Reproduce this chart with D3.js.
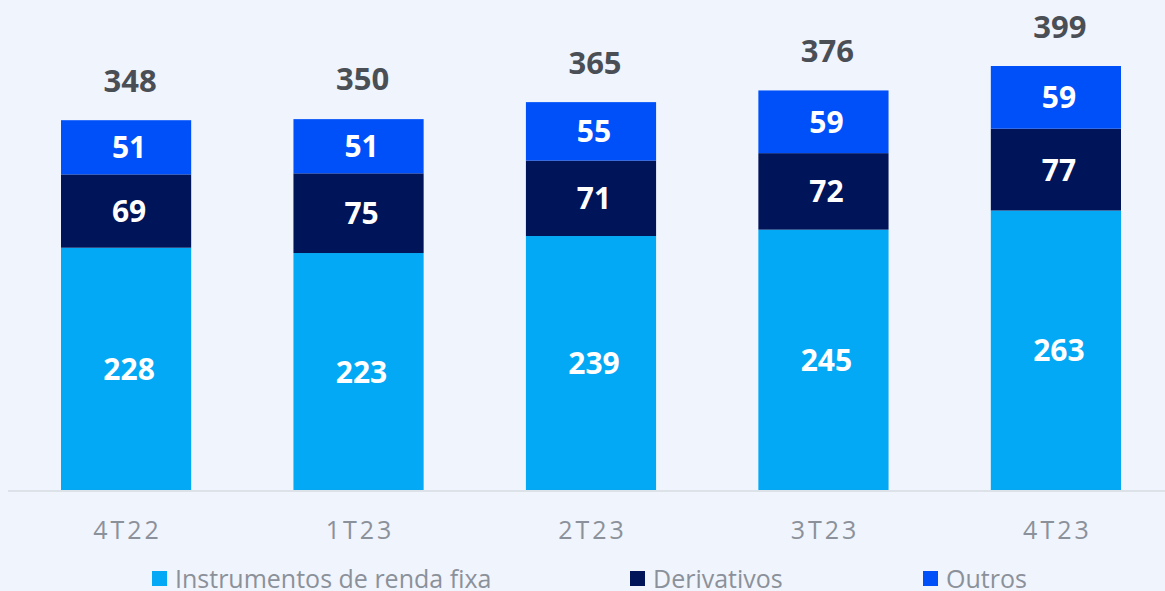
<html>
<head>
<meta charset="utf-8">
<script src="https://cdn.jsdelivr.net/npm/d3@7"></script>
<style>
  body { margin: 0; background: #f0f4fc; overflow: hidden; }
  svg { display: block; font-family: "Open Sans", sans-serif; }
</style>
</head>
<body>
<script>
var quarters = ["4T22", "1T23", "2T23", "3T23", "4T23"];
var rendaFixa = [228, 223, 239, 245, 263];
var derivativos = [69, 75, 71, 72, 77];
var outros = [51, 51, 55, 59, 59];
var totals = [348, 350, 365, 376, 399];
var seriesNames = ["Instrumentos de renda fixa", "Derivativos", "Outros"];
var colors = ["#03a9f4", "#001459", "#0050fa"];

var width = 1165, height = 591;
var svg = d3.select("body").append("svg")
    .attr("width", width)
    .attr("height", height);

var x = d3.scaleBand()
    .domain(quarters)
    .range([8, 1174])
    .paddingInner(0.44)
    .paddingOuter(0.228);

var y = d3.scaleLinear()
    .domain([0, 399])
    .range([490, 66]);

var rows = quarters.map(function(q, i) {
  return { q: q, renda: rendaFixa[i], deriv: derivativos[i], outros: outros[i], total: totals[i] };
});
var stack = d3.stack().keys(["renda", "deriv", "outros"]);
var layers = stack(rows);

var g = svg.selectAll(".layer")
    .data(layers)
  .enter().append("g")
    .attr("fill", function(d, i) { return colors[i]; });

g.selectAll("rect")
    .data(function(d) { return d; })
  .enter().append("rect")
    .attr("x", function(d) { return x(d.data.q); })
    .attr("width", x.bandwidth())
    .attr("y", function(d) { return y(d[1]); })
    .attr("height", function(d) { return y(d[0]) - y(d[1]); });

// segment values
g.selectAll("text")
    .data(function(d) { return d; })
  .enter().append("text")
    .attr("x", function(d) { return x(d.data.q) + x.bandwidth() / 2 + 3; })
    .attr("y", function(d) { return (y(d[0]) + y(d[1])) / 2 + 11; })
    .attr("text-anchor", "middle")
    .attr("fill", "#ffffff")
    .attr("font-size", 30)
    .attr("font-weight", 700)
    .text(function(d) { return d[1] - d[0]; });

// totals
svg.selectAll(".total")
    .data(rows)
  .enter().append("text")
    .attr("class", "total")
    .attr("x", function(d) { return x(d.q) + x.bandwidth() / 2 + 4; })
    .attr("y", function(d) { return y(d.total) - 28; })
    .attr("text-anchor", "middle")
    .attr("fill", "#4a4f56")
    .attr("font-size", 31)
    .attr("font-weight", 700)
    .text(function(d) { return d.total; });

// baseline
svg.append("line")
    .attr("x1", 8).attr("x2", width)
    .attr("y1", 491).attr("y2", 491)
    .attr("stroke", "#dde1e8")
    .attr("stroke-width", 2);

// x axis labels
var xAxis = svg.append("g")
    .attr("transform", "translate(0,490)")
    .call(d3.axisBottom(x).tickSize(0).tickPadding(31));
xAxis.select(".domain").remove();
xAxis.selectAll("text")
    .style("font-family", "Open Sans, sans-serif")
    .style("font-size", "25px")
    .style("letter-spacing", "3px")
    .attr("dx", 1.5)
    .attr("fill", "#8b919a");

// legend
var legendX = [152, 630, 923];
var legend = svg.selectAll(".legend")
    .data(seriesNames)
  .enter().append("g")
    .attr("transform", function(d, i) { return "translate(" + legendX[i] + ",571)"; });
legend.append("rect")
    .attr("width", 15).attr("height", 15)
    .attr("fill", function(d, i) { return colors[i]; });
legend.append("text")
    .attr("x", 23)
    .attr("y", 17)
    .attr("font-size", 25)
    .attr("fill", "#8b919a")
    .text(function(d) { return d; });
</script>
</body>
</html>
